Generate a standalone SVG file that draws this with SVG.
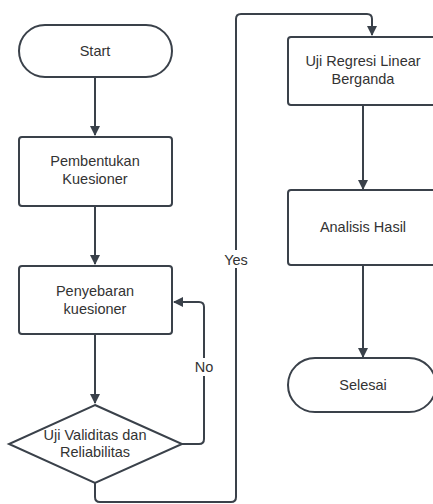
<svg xmlns="http://www.w3.org/2000/svg" width="433" height="504" viewBox="0 0 433 504">
<defs>
<style>
.s{fill:#fff;stroke:#3a414a;stroke-width:2}
.c{fill:none;stroke:#3a414a;stroke-width:2}
text{font-family:"Liberation Sans",Arial,sans-serif;font-size:14.5px;fill:#333;text-anchor:middle}
</style>
<marker id="a" markerWidth="10" markerHeight="10" refX="9" refY="5" orient="auto" markerUnits="userSpaceOnUse">
<path d="M0,0 L10,5 L0,10 Z" fill="#3a414a"/>
</marker>
</defs>
<rect width="433" height="504" fill="#fff"/>
<g id="connectors">
<path class="c" d="M95,77 V135" marker-end="url(#a)"/>
<path class="c" d="M95,206 V264" marker-end="url(#a)"/>
<path class="c" d="M95,334 V403" marker-end="url(#a)"/>
<path class="c" d="M182,444 H199 Q204,444 204,439 V307 Q204,302 199,302 H174" marker-end="url(#a)"/>
<path class="c" d="M95,483 V497 Q95,502 100,502 H231 Q236,502 236,497 V19 Q236,14 241,14 H367 Q372,14 372,19 V35" marker-end="url(#a)"/>
<path class="c" d="M363,105 V189" marker-end="url(#a)"/>
<path class="c" d="M363,265 V357" marker-end="url(#a)"/>
<rect x="190" y="358" width="28" height="18" fill="#fff"/>
<text x="204" y="372">No</text>
<rect x="220" y="250" width="32" height="18" fill="#fff"/>
<text x="236" y="265">Yes</text>
</g>
<g id="start">
<rect class="s" x="19" y="25" width="153" height="52" rx="26"/>
<text x="95" y="56">Start</text>
</g>
<g id="pembentukan">
<rect class="s" x="19" y="137" width="153" height="69" rx="3"/>
<text x="95" y="166">Pembentukan</text>
<text x="95" y="184">Kuesioner</text>
</g>
<g id="penyebaran">
<rect class="s" x="19" y="266" width="153" height="68" rx="3"/>
<text x="95" y="296">Penyebaran</text>
<text x="95" y="314">kuesioner</text>
</g>
<g id="uji-validitas">
<path class="s" d="M95,405 L182,444 L95,483 L9,444 Z"/>
<text x="95" y="440">Uji Validitas dan</text>
<text x="95" y="457">Reliabilitas</text>
</g>
<g id="uji-regresi">
<rect class="s" x="288" y="37" width="152" height="68" rx="3"/>
<text x="363" y="66">Uji Regresi Linear</text>
<text x="363" y="84">Berganda</text>
</g>
<g id="analisis">
<rect class="s" x="288" y="190" width="152" height="75" rx="3"/>
<text x="363" y="232">Analisis Hasil</text>
</g>
<g id="selesai">
<rect class="s" x="288" y="358" width="148" height="54" rx="27"/>
<text x="363" y="390">Selesai</text>
</g>
</svg>
